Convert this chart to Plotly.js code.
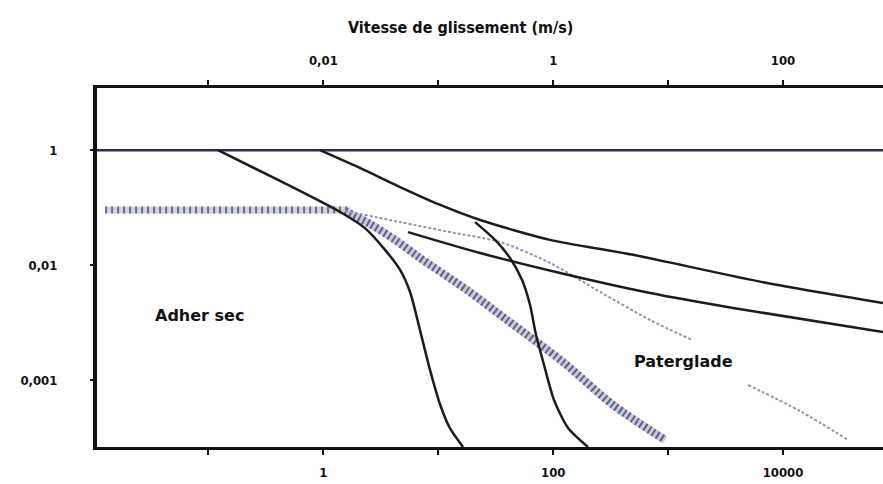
<!DOCTYPE html>
<html>
<head>
<meta charset="utf-8">
<script src="https://cdn.plot.ly/plotly-3.0.1.min.js"></script>
<style>html,body{margin:0;padding:0;background:#fff;} #chart{width:883px;height:484px;}</style>
</head>
<body>
<div id="chart"></div>
<script>
// ---- data (sliding speed on bottom scale, friction level on y) ----
const topLineX = [0.01, 100000];
const topLineY = [0.1, 0.1];

const curveLeftX = [0.121, 0.42, 1.40, 2.30, 3.44, 4.65, 5.68, 6.93, 8.47, 10.4, 12.6, 16.4];
const curveLeftY = [0.1, 0.054, 0.029, 0.021, 0.0136, 0.0091, 0.00585, 0.00273, 0.00123, 0.00061, 0.000385, 0.000263];

const upperLongX = [0.935, 2.08, 4.65, 10.4, 23.1, 94, 495, 7260, 74100];
const upperLongY = [0.1, 0.070, 0.0478, 0.0334, 0.0247, 0.0166, 0.0123, 0.0070, 0.00469];

const sCurveX = [20.9, 31.2, 42.1, 53.6, 62.9, 70.9, 83.2, 101.6, 134.6, 201];
const sCurveY = [0.0237, 0.0166, 0.01155, 0.00744, 0.00451, 0.00247, 0.00136, 0.000673, 0.000385, 0.000263];

const lowerLongX = [5.45, 23.1, 114.8, 697, 3673, 74100];
const lowerLongY = [0.0194, 0.01276, 0.00855, 0.00573, 0.00425, 0.00262];

const plateauX = [0.0126, 1.71];
const plateauY = [0.0302, 0.0302];

const bandX = [1.54, 2.55, 4.21, 6.93, 17.8, 39.6, 121.9, 332, 940];
const bandY = [0.0296, 0.0228, 0.0166, 0.01155, 0.00608, 0.00334, 0.00144, 0.00061, 0.000303];

const dottedX = [1.54, 4.65, 12.6, 34.5, 94, 256, 697, 1615, null, 4966, 14060, 36800];
const dottedY = [0.0296, 0.0237, 0.0194, 0.0159, 0.01045, 0.00585, 0.00334, 0.00224, null, 0.00091, 0.00054, 0.000303];

const bottomTickVals = [0.1, 1, 10, 100, 1000, 10000];
const bottomTickText = ["", "1", "", "100", "", "10000"];
const topTickVals = [0.001, 0.01, 0.1, 1, 10, 100];
const topTickText = ["", "0,01", "", "1", "", "100"];
const yTickVals = [0.1, 0.01, 0.001];
const yTickText = ["1", "0,01", "0,001"];

const titleText = "Vitesse de glissement (m/s)";
const labelDry = "Adher sec";
const labelGlide = "Paterglade";

const solid = '#1c1c1c';
const hand = {family: 'DejaVu Sans Condensed, DejaVu Sans, sans-serif', size: 13, color: '#111', weight: 'bold'};
const handBig = {family: 'DejaVu Sans, sans-serif', size: 16, color: '#111', weight: 'bold'};

const traces = [
  {x: plateauX, y: plateauY, mode: 'lines', line: {color: '#d2d4e0', width: 7}, hoverinfo: 'skip'},
  {x: plateauX, y: plateauY, mode: 'lines', line: {color: '#6a6e90', width: 7, dash: '2px,4px'}, hoverinfo: 'skip'},
  {x: bandX, y: bandY, mode: 'lines', line: {color: '#c8cbdb', width: 8, shape: 'spline', smoothing: 0.8}, hoverinfo: 'skip'},
  {x: bandX, y: bandY, mode: 'lines', line: {color: '#5c6082', width: 8, dash: '2px,3px', shape: 'spline', smoothing: 0.8}, hoverinfo: 'skip'},
  {x: dottedX, y: dottedY, mode: 'lines', line: {color: '#8f94b8', width: 2, dash: '3px,2px', shape: 'spline', smoothing: 0.8}, connectgaps: false, hoverinfo: 'skip'},
  {x: topLineX, y: topLineY, mode: 'lines', line: {color: '#2b2f55', width: 2.5}, hoverinfo: 'skip'},
  {x: curveLeftX, y: curveLeftY, mode: 'lines', line: {color: solid, width: 2.5, shape: 'spline', smoothing: 0.7}, hoverinfo: 'skip'},
  {x: upperLongX, y: upperLongY, mode: 'lines', line: {color: solid, width: 2.5, shape: 'spline', smoothing: 0.7}, hoverinfo: 'skip'},
  {x: sCurveX, y: sCurveY, mode: 'lines', line: {color: solid, width: 2.5, shape: 'spline', smoothing: 0.7}, hoverinfo: 'skip'},
  {x: lowerLongX, y: lowerLongY, mode: 'lines', line: {color: solid, width: 2.5, shape: 'spline', smoothing: 0.7}, hoverinfo: 'skip'},
  {x: [1], y: [0.01], xaxis: 'x2', yaxis: 'y', mode: 'markers', marker: {opacity: 0}, hoverinfo: 'skip'}
];

const layout = {
  width: 883, height: 484,
  margin: {l: 97, r: 0, t: 88, b: 37},
  paper_bgcolor: '#fff', plot_bgcolor: '#fff',
  showlegend: false,
  font: hand,
  xaxis: {
    type: 'log', range: [-1.97, 4.87],
    tickvals: bottomTickVals, ticktext: bottomTickText,
    showgrid: false, zeroline: false,
    showline: true, linecolor: '#111', linewidth: 3,
    ticks: 'outside', ticklen: 5, tickwidth: 2, tickcolor: '#111',
    ticklabelstandoff: 6,
    tickfont: hand
  },
  xaxis2: {
    type: 'log', range: [-3.97, 2.87], overlaying: 'x', side: 'top',
    tickvals: topTickVals, ticktext: topTickText,
    showgrid: false, zeroline: false,
    showline: true, linecolor: '#111', linewidth: 3,
    ticks: 'outside', ticklen: 5, tickwidth: 2, tickcolor: '#111',
    ticklabelstandoff: 10,
    tickfont: hand
  },
  yaxis: {
    type: 'log', range: [-3.58, -0.46],
    tickvals: yTickVals, ticktext: yTickText,
    showgrid: false, zeroline: false,
    showline: true, linecolor: '#111', linewidth: 4,
    ticks: 'outside', ticklen: 3, tickwidth: 2, tickcolor: '#111',
    ticklabelstandoff: 30,
    tickfont: hand
  },
  annotations: [
    {xref: 'paper', yref: 'paper', x: 0.462, y: 1.2, text: titleText, showarrow: false,
     font: {family: hand.family, size: 16, color: '#111', weight: 'bold'}},
    {xref: 'x', yref: 'y', x: -1.074, y: -2.433, text: labelDry, showarrow: false, font: handBig},
    {xref: 'x', yref: 'y', x: 3.13, y: -2.841, text: labelGlide, showarrow: false, font: handBig}
  ]
};

Plotly.newPlot('chart', traces, layout, {displayModeBar: false, staticPlot: true});
</script>
</body>
</html>
